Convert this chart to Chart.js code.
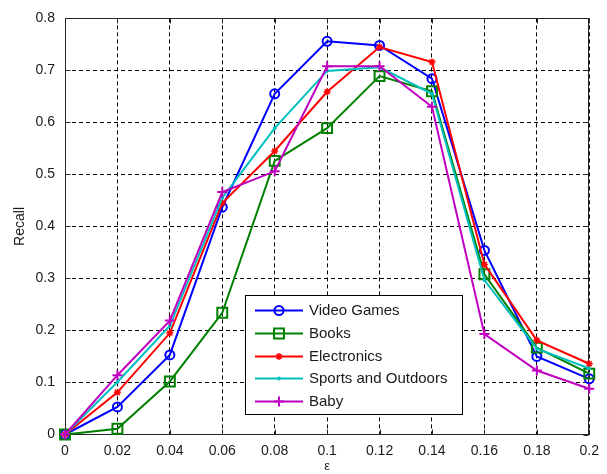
<!DOCTYPE html>
<html>
<head>
<meta charset="utf-8">
<script src="https://cdn.jsdelivr.net/npm/chart.js@4/dist/chart.umd.min.js"></script>
<style>
  html, body { margin: 0; padding: 0; background: #fff; }
  #wrap { width: 607px; height: 474px; }
</style>
</head>
<body>
<div id="wrap"><canvas id="c" width="607" height="474"></canvas></div>
<script>
// ε values along the horizontal axis
const epsilon = ['0', '0.02', '0.04', '0.06', '0.08', '0.1', '0.12', '0.14', '0.16', '0.18', '0.2'];

// Recall ticks
const yTickValues = [0, 0.1, 0.2, 0.3, 0.4, 0.5, 0.6, 0.7, 0.8];
const yTickLabels = ['0', '0.1', '0.2', '0.3', '0.4', '0.5', '0.6', '0.7', '0.8'];

// Recall per category
const videoGames  = [0, 0.053, 0.153, 0.437, 0.655, 0.756, 0.748, 0.684, 0.354, 0.150, 0.107];
const books       = [0, 0.011, 0.102, 0.234, 0.526, 0.589, 0.689, 0.660, 0.308, 0.167, 0.117];
const electronics = [0, 0.081, 0.195, 0.445, 0.545, 0.659, 0.745, 0.716, 0.327, 0.181, 0.136];
const sports      = [0, 0.101, 0.209, 0.455, 0.589, 0.699, 0.706, 0.655, 0.297, 0.165, 0.127];
const baby        = [0, 0.114, 0.219, 0.466, 0.506, 0.708, 0.708, 0.630, 0.193, 0.123, 0.088];

const seriesNames = ['Video Games', 'Books', 'Electronics', 'Sports and Outdoors', 'Baby'];

const FONT = "'Liberation Sans', Arial, Helvetica, sans-serif";
const TEXT = '#1a1a1a';

function series(label, data, color, style, radius, bw, order) {
  return {
    label, data,
    borderColor: color, backgroundColor: color,
    borderWidth: 2,
    pointStyle: style, pointRadius: radius,
    pointBorderColor: color,
    pointBackgroundColor: style === 'circle' && radius < 3 ? color : 'rgba(0,0,0,0)',
    pointBorderWidth: bw,
    pointHoverRadius: radius,
    tension: 0, clip: false, order
  };
}

// Box, inward tick marks and the legend panel
const matlabFrame = {
  id: 'matlabFrame',
  beforeDatasetsDraw(chart) {
    const { ctx, chartArea: a, scales } = chart;
    ctx.save();
    ctx.strokeStyle = '#262626';
    ctx.lineWidth = 1;
    ctx.setLineDash([]);
    const L = Math.round(a.left) + 0.5, R = Math.round(a.right) - 0.5;
    const T = Math.round(a.top) + 0.5, B = Math.round(a.bottom) - 0.5;
    ctx.strokeRect(L, T, R - L, B - T);
    const tl = 5;
    ctx.beginPath();
    scales.x.ticks.forEach((t, i) => {
      const x = Math.round(scales.x.getPixelForTick(i)) + 0.5;
      ctx.moveTo(x, B); ctx.lineTo(x, B - tl);
      ctx.moveTo(x, T); ctx.lineTo(x, T + tl);
    });
    scales.y.ticks.forEach(t => {
      const y = Math.round(scales.y.getPixelForValue(t.value)) + 0.5;
      ctx.moveTo(L, y); ctx.lineTo(L + tl, y);
      ctx.moveTo(R, y); ctx.lineTo(R - tl, y);
    });
    ctx.stroke();
    ctx.restore();
  },
  afterDraw(chart) {
    const { ctx } = chart;
    const box = { x: 245.5, y: 295.5, w: 217, h: 119 };
    ctx.save();
    ctx.fillStyle = '#fff';
    ctx.fillRect(box.x, box.y, box.w, box.h);
    ctx.strokeStyle = '#000';
    ctx.lineWidth = 1;
    ctx.setLineDash([]);
    ctx.strokeRect(box.x, box.y, box.w, box.h);
    ctx.font = '15px ' + FONT;
    ctx.textBaseline = 'middle';
    ctx.textAlign = 'left';
    chart.data.datasets.forEach((ds, i) => {
      const y = Math.round(310 + i * 22.8) + 0.5;
      ctx.strokeStyle = ds.borderColor;
      ctx.lineWidth = ds.borderWidth;
      ctx.beginPath();
      ctx.moveTo(255, y); ctx.lineTo(303, y);
      ctx.stroke();
      ctx.fillStyle = ds.pointBackgroundColor;
      ctx.strokeStyle = ds.pointBorderColor;
      ctx.lineWidth = ds.pointBorderWidth;
      Chart.helpers.drawPoint(ctx, {
        pointStyle: ds.pointStyle, radius: ds.pointRadius, borderWidth: ds.pointBorderWidth, rotation: 0
      }, 279, y);
      ctx.fillStyle = TEXT;
      ctx.fillText(ds.label, 309, y);
    });
    ctx.restore();
  }
};

new Chart(document.getElementById('c'), {
  type: 'line',
  data: {
    labels: epsilon,
    datasets: [
      series(seriesNames[0], videoGames, '#0000ff', 'circle', 4.5, 2, 5),
      series(seriesNames[1], books, '#008000', 'rect', 7, 2, 4),
      series(seriesNames[2], electronics, '#ff0000', 'star', 3.5, 1.5, 3),
      series(seriesNames[3], sports, '#00bfbf', 'circle', 1.5, 1, 2),
      series(seriesNames[4], baby, '#bf00bf', 'cross', 5, 2, 1)
    ]
  },
  options: {
    responsive: false,
    animation: false,
    layout: { padding: { top: 16, right: 12, left: 0, bottom: 0 } },
    plugins: { legend: { display: false }, tooltip: { enabled: false } },
    scales: {
      x: {
        type: 'category',
        offset: false,
        grid: { color: '#000', lineWidth: 1, drawTicks: false },
        border: { display: false, dash: [4, 3] },
        ticks: { color: TEXT, font: { family: FONT, size: 14 }, padding: 8, maxRotation: 0, autoSkip: false },
        title: { display: true, text: 'ε', color: TEXT, font: { family: FONT, size: 13 }, padding: { top: 0, bottom: 0 } },
        afterFit(s) { s.height = 39.5; }
      },
      y: {
        min: 0, max: 0.8,
        afterBuildTicks(s) { s.ticks = yTickValues.map(v => ({ value: v })); },
        grid: { color: '#000', lineWidth: 1, drawTicks: false },
        border: { display: false, dash: [4, 3] },
        ticks: { color: TEXT, font: { family: FONT, size: 14 }, padding: 10,
                 callback: (v, i) => yTickLabels[i] },
        title: { display: true, text: 'Recall', color: TEXT, font: { family: FONT, size: 14 }, padding: { top: 12, bottom: 0 } },
        afterFit(s) { s.width = 65; }
      }
    }
  },
  plugins: [matlabFrame]
});
</script>
</body>
</html>
